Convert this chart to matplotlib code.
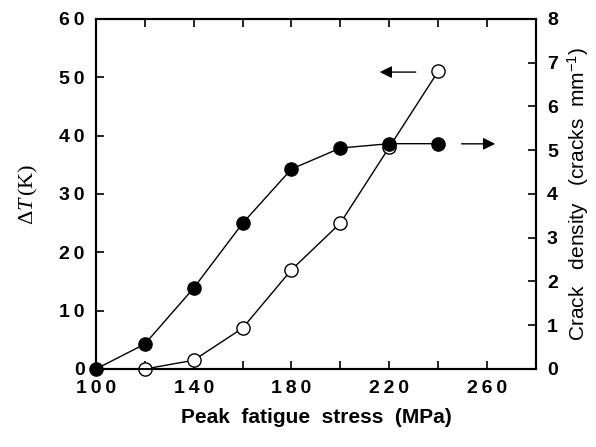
import matplotlib
matplotlib.use("Agg")
import matplotlib.pyplot as plt

stress = [100, 120, 140, 160, 180, 200, 220, 240]
crack_density = [0.0, 0.57, 1.85, 3.33, 4.57, 5.05, 5.15, 5.15]
stress_dT = [120, 140, 160, 180, 200, 220, 240]
delta_T = [0.0, 1.5, 7.0, 17.0, 25.0, 38.0, 51.0]

x_ticks = [100, 140, 180, 220, 260]
x_minor = [120, 160, 200, 240, 280]
y_ticks = [0, 10, 20, 30, 40, 50, 60]
y2_ticks = [0, 1, 2, 3, 4, 5, 6, 7, 8]

plt.rcParams['font.family'] = ['Liberation Sans', 'DejaVu Sans']
plt.rcParams['mathtext.fontset'] = 'custom'
plt.rcParams['mathtext.rm'] = 'Liberation Serif'
plt.rcParams['mathtext.it'] = 'Liberation Serif:italic'
plt.rcParams['mathtext.bf'] = 'Liberation Serif:bold'

def spaced(v):
    return '\u2009'.join(str(v))

fig = plt.figure(figsize=(5.96, 4.47), dpi=100)
ax = fig.add_axes([0.161, 0.1745, 0.738, 0.783])
ax2 = ax.twinx()

ax.plot(stress_dT, delta_T, '-o', color='black', mfc='white', mec='black',
        ms=9.5, lw=1.0, mew=1.0, zorder=3, clip_on=False)
ax2.plot(stress, crack_density, '-o', color='black', mfc='black', mec='black',
         ms=9.5, lw=1.0, zorder=3, clip_on=False)

ax.set_xlim(100, 280)
ax.set_ylim(0, 60)
ax2.set_ylim(0, 8)

ax.set_xticks(x_ticks)
ax.set_xticks(x_minor, minor=True)
ax.set_xticklabels([spaced(v) for v in x_ticks], fontsize=14, fontweight='bold')
ax.set_yticks(y_ticks)
ax.set_yticklabels([spaced(v) for v in y_ticks], fontsize=14, fontweight='bold')
ax2.set_yticks(y2_ticks)
ax2.set_yticklabels([str(v) for v in y2_ticks], fontsize=14, fontweight='bold')

ax.tick_params(axis='x', which='both', direction='in', top=True, length=6, width=1.2, pad=8)
ax.tick_params(axis='y', direction='in', length=6, width=1.2, pad=8)
ax2.tick_params(axis='y', direction='in', length=6, width=1.2, pad=8)

for a in (ax, ax2):
    for s in a.spines.values():
        s.set_linewidth(1.5)

ax.set_xlabel('Peak  fatigue  stress  (MPa)', fontsize=15, fontweight='bold', labelpad=8)
ax.set_ylabel(r'$\Delta\mathit{T}\,\mathrm{(K)}$', fontsize=16, labelpad=14)
ax2.set_ylabel(r'Crack   density   (cracks  mm$^{\mathregular{-1}}$)', fontsize=15, labelpad=6)

ax.annotate('', xy=(215, 50.9), xytext=(232, 50.9),
            arrowprops=dict(arrowstyle='-|>', color='black', lw=1.0, mutation_scale=18))
ax.annotate('', xy=(264.5, 38.6), xytext=(248.5, 38.6),
            arrowprops=dict(arrowstyle='-|>', color='black', lw=1.0, mutation_scale=18))

fig.savefig('out.png', dpi=100)
